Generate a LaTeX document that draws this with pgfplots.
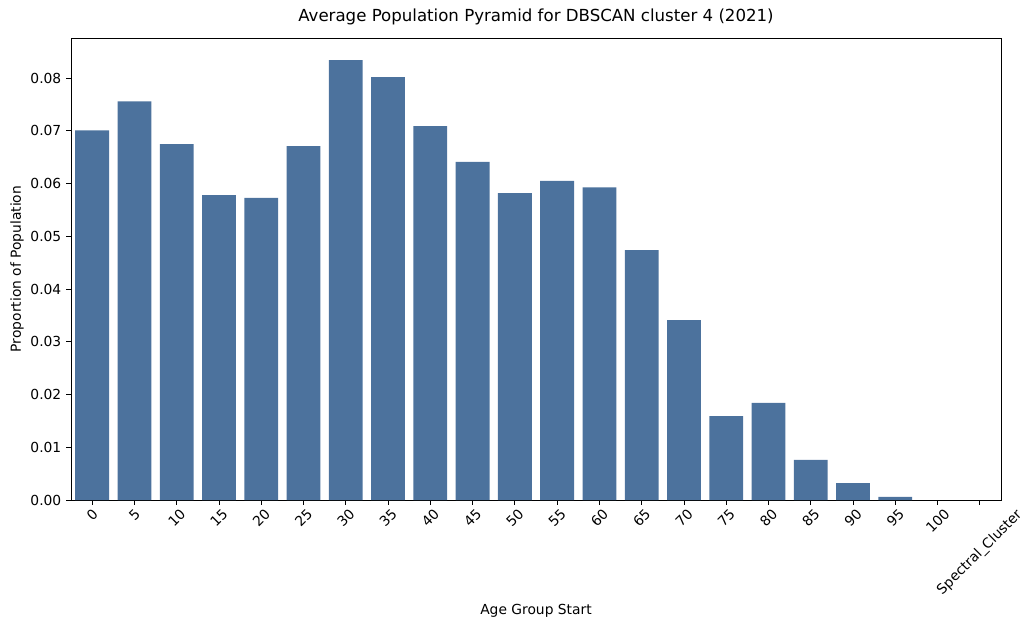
\documentclass[border=0pt]{standalone}
\usepackage{pgfplots}
\pgfplotsset{compat=1.18}
\usepackage{fontspec}
\setmainfont{DejaVu Sans}
\usepackage{graphicx}
\newcommand\rl[1]{\rotatebox{45}{#1}}
\begin{document}
\fontsize{10pt}{12pt}\selectfont
\begin{tikzpicture}
\useasboundingbox (-0.71in,-1.31in) rectangle (9.51in,5.0in);
\begin{axis}[
  scale only axis, width=9.3in, height=4.62in, at={(0,0)}, anchor=south west,
  xmin=-0.5, xmax=21.5, ymin=0, ymax=0.0876,
  ybar, bar width=0.8, bar shift=0pt,
  xtick={0,...,21},
  xticklabels={\rl{0},\rl{5},\rl{10},\rl{15},\rl{20},\rl{25},\rl{30},\rl{35},\rl{40},\rl{45},\rl{50},\rl{55},\rl{60},\rl{65},\rl{70},\rl{75},\rl{80},\rl{85},\rl{90},\rl{95},\rl{100},\rl{Spectral\_Cluster}},
  xticklabel style={anchor=north, inner sep=2pt},
  ytick={0,0.01,...,0.08},
  yticklabel style={/pgf/number format/fixed,/pgf/number format/precision=2,/pgf/number format/fixed zerofill},
  /pgf/number format/assume math mode=true,
  scaled y ticks=false,
  tick pos=left, tick align=outside, major tick length=3.5pt,
  tick style={black, line width=0.6pt},
  axis line style={line width=0.6pt},
  title={\fontsize{12pt}{14pt}\selectfont Average Population Pyramid for DBSCAN cluster 4 (2021)},
  title style={at={(axis description cs:0.5,1)},anchor=base, yshift=0.08in},
  xlabel={Age Group Start},
  xlabel style={at={(axis description cs:0.5,-0.24)},anchor=center},
  ylabel={Proportion of Population},
  ylabel style={at={(axis description cs:-0.058,0.5)},anchor=center},
]
\addplot[fill={rgb,255:red,76;green,114;blue,157}, draw=none] coordinates {
(0,0.0701)(1,0.0756)(2,0.0675)(3,0.0578)(4,0.0573)(5,0.0671)(6,0.0834)(7,0.0802)(8,0.0709)(9,0.0641)(10,0.0582)(11,0.0605)(12,0.0593)(13,0.0474)(14,0.0341)(15,0.0159)(16,0.0184)(17,0.0076)(18,0.0032)(19,0.0006)};
\end{axis}
\end{tikzpicture}
\end{document}
